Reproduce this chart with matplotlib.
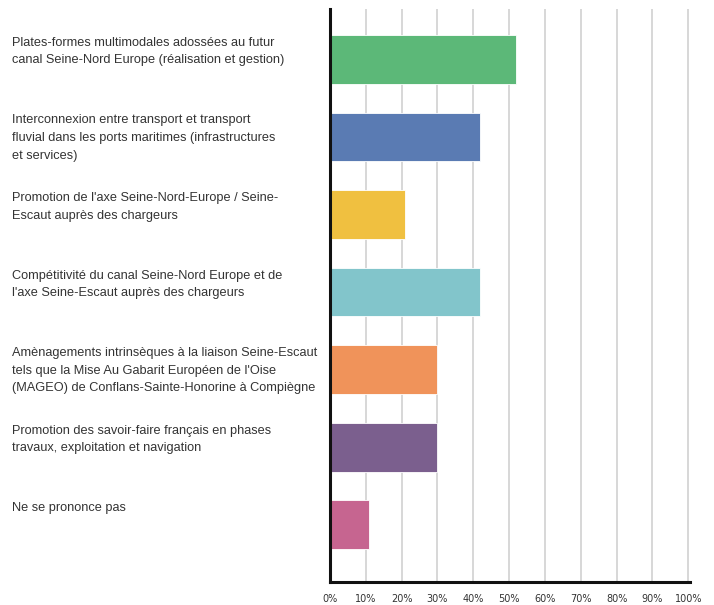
"""Bar chart: priorites Seine-Nord Europe / Seine-Escaut."""

import matplotlib
matplotlib.use('Agg')
import matplotlib.pyplot as plt
from matplotlib.transforms import blended_transform_factory

LABELS = [
    'Plates-formes multimodales adossées au futur\n'
    'canal Seine-Nord Europe (réalisation et gestion)',
    'Interconnexion entre transport et transport\n'
    'fluvial dans les ports maritimes (infrastructures\n'
    'et services)',
    'Promotion de l\'axe Seine-Nord-Europe / Seine-\n'
    'Escaut auprès des chargeurs',
    'Compétitivité du canal Seine-Nord Europe et de\n'
    'l\'axe Seine-Escaut auprès des chargeurs',
    'Amènagements intrinsèques à la liaison Seine-Escaut\n'
    'tels que la Mise Au Gabarit Européen de l\'Oise\n'
    '(MAGEO) de Conflans-Sainte-Honorine à Compiègne',
    'Promotion des savoir-faire français en phases\n'
    'travaux, exploitation et navigation',
    'Ne se prononce pas',
]
VALUES = [52, 42, 21, 42, 30, 30, 11]
COLORS = ['#5cb878', '#5a7bb3', '#f0c040', '#82c5cb',
          '#f0935a', '#7b5f8e', '#c66590']
TICKS = [0, 10, 20, 30, 40, 50, 60, 70, 80, 90, 100]


def run():
    fig = plt.figure(figsize=(7.14, 6.05), dpi=100)
    ax = fig.add_axes([330 / 714, 1 - 582 / 605, 360 / 714, 573 / 605])

    pos = list(range(len(VALUES)))
    ax.barh(pos, VALUES, height=0.63, color=COLORS,
            edgecolor='white', linewidth=0.6, zorder=3)

    ax.set_xlim(0, 100.5)
    ax.set_ylim(6.74, -0.65)
    ax.set_xticks(TICKS)
    ax.set_xticklabels(['{}%'.format(t) for t in TICKS],
                       fontsize=7, color='#333333', family='DejaVu Sans')
    ax.tick_params(axis='x', length=0, pad=9)
    ax.set_yticks([])
    ax.grid(axis='x', color='#d4d4d4', linewidth=1.3, zorder=0)

    for side in ('top', 'right'):
        ax.spines[side].set_visible(False)
    for side in ('left', 'bottom'):
        ax.spines[side].set_linewidth(2.2)
        ax.spines[side].set_color('#111111')
        ax.spines[side].set_zorder(5)

    trans = blended_transform_factory(fig.transFigure, ax.transData)
    for i, lab in enumerate(LABELS):
        ax.text(12 / 714, i - 0.29, lab, transform=trans, ha='left',
                va='top', fontsize=9.2, color='#333333',
                family='Liberation Sans', linespacing=1.62)

    fig.savefig('out.png', dpi=100)


if __name__ == "__main__":
    run()
